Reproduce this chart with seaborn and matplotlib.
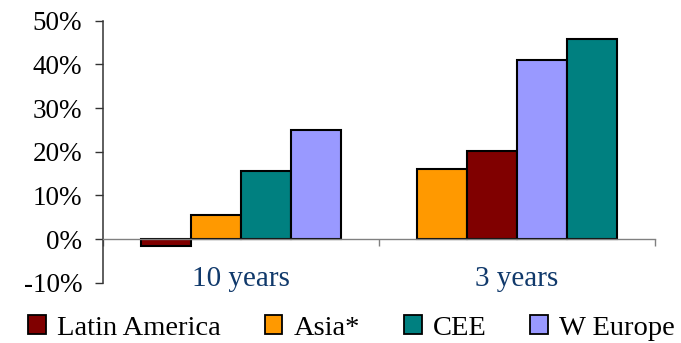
import numpy as np
import pandas as pd
import seaborn as sns
import matplotlib.pyplot as plt
from matplotlib.patches import Patch
from matplotlib.ticker import FixedLocator, FuncFormatter

# Return by region over two horizons (%)
periods = ["10 years", "3 years"]
regions = ["Latin America", "Asia*", "CEE", "W Europe"]
ret_10y = [-1.5, 5.4, 15.6, 24.9]
ret_3y = [20.1, 16.1, 45.9, 41.1]
colors = ["#800000", "#FF9900", "#008080", "#9999FF"]
y_ticks = [-10, 0, 10, 20, 30, 40, 50]

df = pd.DataFrame({
    "period": np.repeat(periods, len(regions)),
    "region": regions * len(periods),
    "ret": ret_10y + ret_3y,
})
palette = dict(zip(regions, colors))

sns.set_theme(style="white")
plt.rcParams["font.family"] = ["Liberation Serif", "DejaVu Serif"]

fig = plt.figure(figsize=(6.81, 3.43), dpi=100)
ax = fig.add_axes([0.1512, 0.1758, 0.8106, 0.7639])

# bars within each period are ordered from lowest to highest return
for p in periods:
    sub = df[df["period"] == p]
    hue_order = list(sub.sort_values("ret")["region"])
    sns.barplot(data=sub, x="period", y="ret", hue="region", order=periods,
                hue_order=hue_order, palette=palette, width=0.725, dodge=True,
                edgecolor="black", linewidth=1.5, saturation=1, legend=False,
                ax=ax)

ax.set_xlim(-0.5, 1.5)
ax.set_ylim(-10, 50)
ax.yaxis.set_major_locator(FixedLocator(y_ticks))
ax.yaxis.set_major_formatter(FuncFormatter(lambda v, _: f"{v:.0f}%"))
ax.tick_params(axis="y", which="major", direction="out", length=6, width=1,
               color="#333333", labelsize=19.5, labelcolor="black", pad=9,
               left=True)

# category axis crosses at zero, ticks on category boundaries
ax.spines["bottom"].set_position(("data", 0))
ax.spines["bottom"].set_color("#808080")
ax.spines["bottom"].set_linewidth(1.0)
ax.spines["left"].set_color("#333333")
ax.spines["left"].set_linewidth(1.1)
ax.spines["top"].set_visible(False)
ax.spines["right"].set_visible(False)
ax.xaxis.set_major_locator(FixedLocator([-0.5, 0.5, 1.5]))
ax.xaxis.set_major_formatter(FuncFormatter(lambda v, _: ""))
ax.xaxis.set_minor_locator(FixedLocator([0, 1]))
ax.xaxis.set_minor_formatter(FuncFormatter(lambda v, _: periods[int(round(v))]))
ax.tick_params(axis="x", which="major", direction="out", length=5, width=1,
               color="#808080", bottom=True)
ax.tick_params(axis="x", which="minor", length=0, labelsize=21,
               labelcolor="#10396B", pad=19.5, bottom=True)
ax.set_xlabel("")
ax.set_ylabel("")
ax.grid(False)

handles = [Patch(facecolor=c, edgecolor="black", linewidth=1.3) for c in colors]
fig.legend(handles, regions, loc="center", bbox_to_anchor=(0.516, 0.044), ncol=4,
           frameon=False, fontsize=20.5, handlelength=0.63, handleheight=0.67,
           handletextpad=0.38, columnspacing=1.55, borderaxespad=0,
           borderpad=0, labelcolor="black")

fig.savefig("out.png", dpi=100)
